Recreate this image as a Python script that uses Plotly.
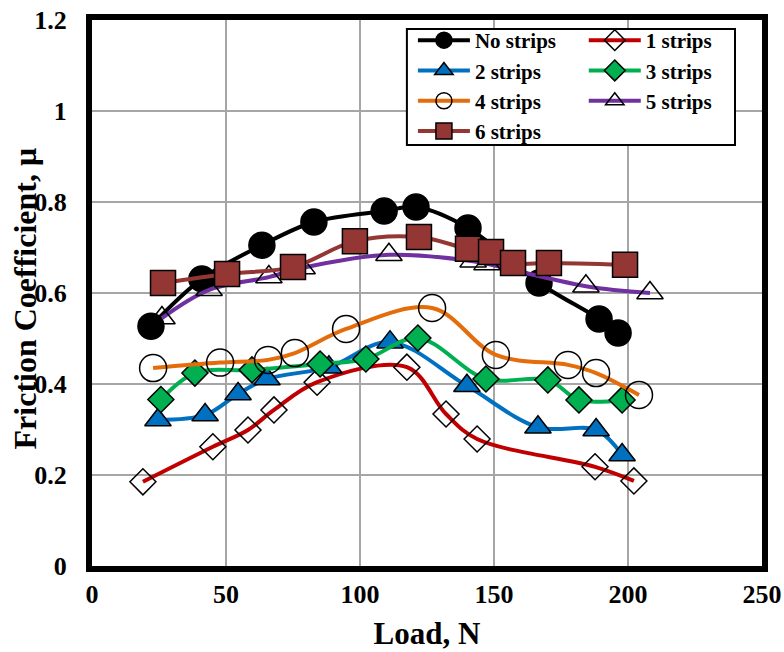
import plotly.graph_objects as go

# ---- data ----
load_no = [22.0, 41.0, 63.4, 82.8, 109.0, 120.9, 140.3, 166.8, 189.2, 196.3]
mu_no = [0.527, 0.631, 0.705, 0.756, 0.780, 0.789, 0.743, 0.622, 0.543, 0.512]

load_1 = [19.0, 45.1, 58.2, 67.9, 84.0, 117.5, 132.1, 143.7, 187.7, 202.2]
mu_1 = [0.185, 0.262, 0.299, 0.343, 0.404, 0.437, 0.334, 0.279, 0.218, 0.187]

load_2 = [24.6, 42.2, 54.5, 65.3, 88.4, 111.2, 139.9, 166.4, 188.1, 197.8]
mu_2 = [0.321, 0.332, 0.378, 0.411, 0.437, 0.492, 0.396, 0.305, 0.299, 0.244]

load_3 = [25.7, 38.4, 59.7, 85.1, 102.2, 121.6, 147.0, 170.1, 181.7, 197.8]
mu_3 = [0.366, 0.424, 0.431, 0.444, 0.455, 0.501, 0.411, 0.409, 0.365, 0.365]

load_4 = [22.8, 47.8, 65.7, 75.7, 94.8, 126.9, 150.7, 177.6, 188.1, 204.1]
mu_4 = [0.435, 0.447, 0.453, 0.468, 0.521, 0.567, 0.464, 0.442, 0.424, 0.376]

load_5 = [26.1, 43.7, 66.0, 78.4, 110.8, 142.2, 147.4, 184.3, 208.2]
mu_5 = [0.545, 0.607, 0.635, 0.655, 0.684, 0.670, 0.664, 0.615, 0.600]

load_6 = [26.5, 50.4, 75.0, 98.1, 122.0, 140.3, 148.9, 157.1, 170.5, 198.9]
mu_6 = [0.622, 0.642, 0.657, 0.714, 0.723, 0.697, 0.690, 0.666, 0.666, 0.662]

series_names = ["No strips", "1 strips", "2 strips", "3 strips", "4 strips", "5 strips", "6 strips"]

x_ticks = [0, 50, 100, 150, 200, 250]
y_ticks = [0, 0.2, 0.4, 0.6, 0.8, 1.0, 1.2]

FONT = "Liberation Serif, Times New Roman, serif"

styles = [
    dict(color="#000000", symbol="circle", mcolor="#000000", size=26, legend="legend"),
    dict(color="#C00000", symbol="diamond-open", mcolor="#000000", size=20, legend="legend2"),
    dict(color="#0070C0", symbol="triangle-up", mcolor="#0070C0", size=23, legend="legend"),
    dict(color="#00B050", symbol="diamond", mcolor="#00B050", size=20, legend="legend2"),
    dict(color="#E46C0A", symbol="circle-open", mcolor="#000000", size=27, legend="legend"),
    dict(color="#7030A0", symbol="triangle-up-open", mcolor="#000000", size=23, legend="legend2"),
    dict(color="#943634", symbol="square", mcolor="#943634", size=25, legend="legend"),
]

xs = [load_no, load_1, load_2, load_3, load_4, load_5, load_6]
ys = [mu_no, mu_1, mu_2, mu_3, mu_4, mu_5, mu_6]

fig = go.Figure()
for name, x, y, st in zip(series_names, xs, ys, styles):
    fig.add_trace(go.Scatter(
        x=x, y=y, name=name, mode="lines+markers", legend=st["legend"],
        line=dict(color=st["color"], width=4, shape="spline", smoothing=1.0),
        marker=dict(symbol=st["symbol"], size=st["size"], color=st["mcolor"],
                    line=dict(color="#000000", width=1.5)),
    ))

legend_font = dict(family=FONT, size=21, color="black", weight="bold")
legend_common = dict(orientation="v", yanchor="top", xanchor="left",
                     bgcolor="rgba(0,0,0,0)", borderwidth=0, font=legend_font,
                     itemwidth=52, tracegroupgap=0)

fig.update_layout(
    width=784, height=652,
    margin=dict(l=92, r=22, t=20, b=86, autoexpand=False),
    plot_bgcolor="white", paper_bgcolor="white",
    font=dict(family=FONT, color="black"),
    showlegend=True,
    legend=dict(x=0.479, y=1.0, **legend_common),
    legend2=dict(x=0.734, y=1.0, **legend_common),
    shapes=[dict(type="rect", xref="paper", yref="paper", layer="above",
                 x0=0.470, x1=0.9597, y0=0.771, y1=0.9835,
                 fillcolor="white", line=dict(color="black", width=2))],
    xaxis=dict(
        range=[0, 250], tickvals=x_ticks, ticktext=[str(v) for v in x_ticks],
        showgrid=True, gridcolor="#A6A6A6", gridwidth=1.5, zeroline=False,
        showline=True, linecolor="black", linewidth=6, mirror=True, ticks="",
        tickfont=dict(family=FONT, size=26, color="black", weight="bold"),
        ticklabelstandoff=0,
        title=dict(text="Load, N", font=dict(family=FONT, size=31, color="black", weight="bold"),
                   standoff=16),
    ),
    yaxis=dict(
        range=[0, 1.2], tickvals=y_ticks, ticktext=["0", "0.2", "0.4", "0.6", "0.8", "1", "1.2"],
        showgrid=True, gridcolor="#A6A6A6", gridwidth=1.5, zeroline=False,
        showline=True, linecolor="black", linewidth=6, mirror=True, ticks="",
        tickfont=dict(family=FONT, size=26, color="black", weight="bold"),
        ticklabelstandoff=14,
    ),
    annotations=[dict(
        text="Friction Coefficient, μ", textangle=-90,
        xref="paper", yref="paper", x=-0.1, y=0.49,
        xanchor="center", yanchor="middle", showarrow=False,
        font=dict(family=FONT, size=32, color="black", weight="bold"),
    )],
)

fig.write_html("out.html")
